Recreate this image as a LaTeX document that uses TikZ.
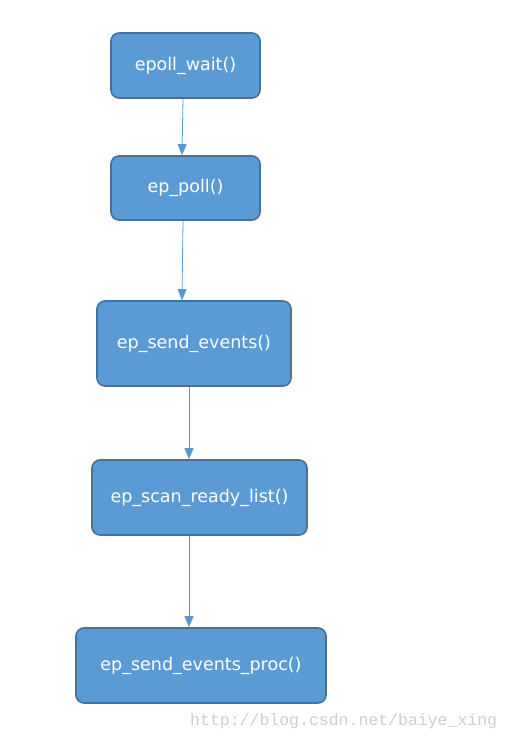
\documentclass[tikz,border=0pt]{standalone}
\usepackage{fontspec}
\setmainfont{DejaVu Sans}
\newfontfamily\markfont{Liberation Mono}
\usetikzlibrary{arrows.meta}
\definecolor{cFill}{RGB}{91,155,213}
\definecolor{cEdge}{RGB}{65,113,156}
\definecolor{cArrow}{RGB}{91,150,210}
\definecolor{cMark}{RGB}{208,206,198}
\tikzset{
    func/.style={draw=cEdge, line width=1.6pt, fill=cFill, rounded corners=8pt,
        text=white, font=\fontsize{17.5}{20}\selectfont, inner sep=0pt},
    flow/.style={draw=cArrow, line width=0.8pt, -{Triangle[width=9pt,length=11pt]}}
}
\begin{document}
\begin{tikzpicture}[x=1pt, y=-1pt]
        \useasboundingbox (0,0) rectangle (511,739);
        \node[func, minimum width=149pt, minimum height=65pt] (wait) at (185.5,65.5) {epoll\_wait()};
        \node[func, minimum width=149pt, minimum height=64pt] (poll) at (185.5,188) {ep\_poll()};
        \node[func, minimum width=194pt, minimum height=85pt] (send) at (194,343.5) {ep\_send\_events()};
        \node[func, minimum width=215pt, minimum height=75pt] (scan) at (199.5,497.5) {ep\_scan\_ready\_list()};
        \node[func, minimum width=250pt, minimum height=75pt] (proc) at (201,665.5) {ep\_send\_events\_proc()};
        \draw[flow] ([xshift=-2.5pt]wait.south) -- ([xshift=-3.5pt]poll.north);
        \draw[flow] ([xshift=-2.5pt]poll.south) -- ([xshift=-12pt]send.north);
        \draw[flow] ([xshift=-5pt]send.south) -- ([xshift=-10.5pt]scan.north);
        \draw[flow] ([xshift=-10.5pt]scan.south) -- ([xshift=-12pt]proc.north);
        \node[text=cMark, font=\markfont\fontsize{16.5}{18}\selectfont, anchor=base west, inner sep=0pt] (mark) at (190,725) {http://blog.csdn.net/baiye\_xing};
        \end{tikzpicture}
\end{document}
